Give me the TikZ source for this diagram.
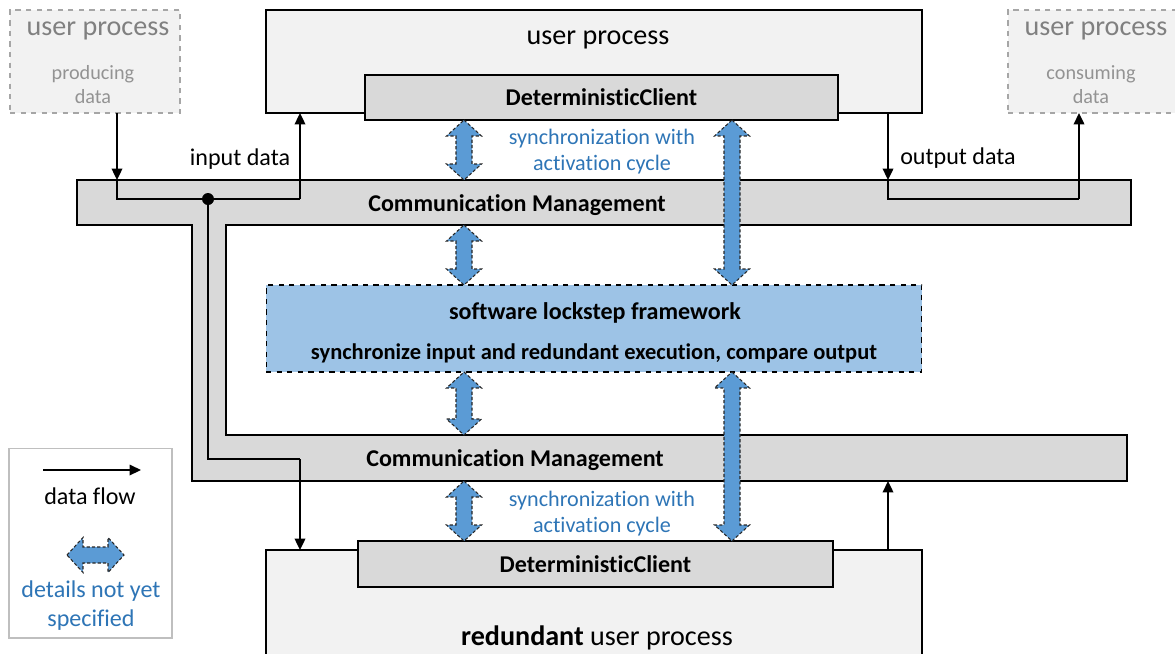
\documentclass[tikz,border=0pt]{standalone}
\usepackage{fontspec}
\setmainfont{Carlito}[Ligatures={NoCommon,NoRare}]
\usetikzlibrary{calc,arrows.meta}

\definecolor{boxfill}{HTML}{F2F2F2}
\definecolor{cmfill}{HTML}{D9D9D9}
\definecolor{lockfill}{HTML}{9DC3E6}
\definecolor{syncfill}{HTML}{5B9BD5}
\definecolor{synctext}{HTML}{2E75B6}
\definecolor{ghost}{HTML}{A6A6A6}
\definecolor{ghosttext}{HTML}{808080}

\tikzset{
  box/.style={draw, line width=0.8pt, fill=boxfill, inner sep=0pt, outer sep=0pt},
  ghostbox/.style={draw=ghost, dashed, line width=0.8pt, fill=boxfill, inner sep=0pt, outer sep=0pt},
  client/.style={draw, line width=0.8pt, fill=cmfill, inner sep=0pt, outer sep=0pt,
    font=\bfseries\fontsize{13.7}{16}\selectfont},
  lbl/.style={yshift=-0.05cm},
  txt/.style={lbl, font=\fontsize{13.7}{16}\selectfont},
  bigtxt/.style={lbl, font=\fontsize{16}{19}\selectfont},
  boldtxt/.style={lbl, font=\bfseries\fontsize{13.7}{16}\selectfont},
  ghosttitle/.style={lbl, text=ghosttext, font=\fontsize{16}{19}\selectfont},
  ghostsub/.style={lbl, text=ghosttext!85, align=center, font=\fontsize{11.5}{13.6}\selectfont},
  bluetxt/.style={lbl, text=synctext, align=center, font=\fontsize{12.6}{14.7}\selectfont},
  flow/.style={line width=1.1pt, -{Triangle[length=6.5pt,width=6pt]}},
  flowline/.style={line width=1.1pt},
  syncarrow/.style={draw=black!85, line width=0.6pt, dash pattern=on 1.8pt off 1.2pt, fill=syncfill,
    to path={
      -- ($(\tikztostart)!0.32cm!(\tikztotarget)!0.35cm!90:(\tikztotarget)$)
      -- ($(\tikztostart)!0.32cm!(\tikztotarget)!0.16cm!90:(\tikztotarget)$)
      -- ($(\tikztotarget)!0.32cm!(\tikztostart)!0.16cm!-90:(\tikztostart)$)
      -- ($(\tikztotarget)!0.32cm!(\tikztostart)!0.35cm!-90:(\tikztostart)$)
      -- (\tikztotarget)
      -- ($(\tikztotarget)!0.32cm!(\tikztostart)!0.35cm!90:(\tikztostart)$)
      -- ($(\tikztotarget)!0.32cm!(\tikztostart)!0.16cm!90:(\tikztostart)$)
      -- ($(\tikztostart)!0.32cm!(\tikztotarget)!0.16cm!-90:(\tikztotarget)$)
      -- ($(\tikztostart)!0.32cm!(\tikztotarget)!0.35cm!-90:(\tikztotarget)$)
      -- cycle}}
}

\begin{document}
\begin{tikzpicture}[x=0.02cm, y=-0.02cm]
    \useasboundingbox (0,0) rectangle (1175,653);
    %% Draw the process boxes
    \node[ghostbox, minimum width=3.4cm, minimum height=2.06cm] (prodBox) at (95,61.5) {};
    \node[ghostbox, minimum width=3.4cm, minimum height=2.06cm] (consBox) at (1093,61.5) {};
    \node[box, minimum width=13.12cm, minimum height=2.06cm] (upTop) at (594,61.5) {};
    \node[client, minimum width=9.46cm, minimum height=0.9cm] (dcTop) at (601.5,97.5) {DeterministicClient};
    \node[box, minimum width=13.12cm, minimum height=3cm] (upBot) at (594,625) {};
    \node[client, minimum width=9.5cm, minimum height=0.92cm] (dcBot) at (595.5,564) {DeterministicClient};
    \node[draw, dashed, line width=0.6pt, fill=lockfill, inner sep=0pt, outer sep=0pt,
      minimum width=13.12cm, minimum height=1.74cm] (lockstep) at (594,328.5) {};
    %% Draw the communication management band
    \node[inner sep=0pt, outer sep=0pt, minimum width=21.08cm, minimum height=0.9cm] (cmTop) at (604,202.5) {};
    \node[inner sep=0pt, outer sep=0pt, minimum width=18.7cm, minimum height=0.92cm] (cmBot) at (659.5,458) {};
    \coordinate (bandIn) at (226,0);
    \draw[line width=0.8pt, fill=cmfill] (cmTop.north west) -- (cmTop.north east) -- (cmTop.south east)
      -- (cmTop.south -| bandIn) -- (cmBot.north -| bandIn) -- (cmBot.north east) -- (cmBot.south east)
      -- (cmBot.south west) -- (cmTop.south -| cmBot.west) -- (cmTop.south west) -- cycle;
    %% Draw the legend
    \node[draw=black!25, line width=0.6pt, fill=white, inner sep=0pt, outer sep=0pt,
      minimum width=3.26cm, minimum height=3.8cm] (legend) at (90.5,543) {};
    %% Draw the labels
    \node[ghosttitle] (prodTitle) at (98,28) {user process};
    \node[ghostsub] (prodSub) at (93,82) {producing\\data};
    \node[ghosttitle] (consTitle) at (1096,28) {user process};
    \node[ghostsub] (consSub) at (1091,82) {consuming\\data};
    \node[bigtxt] (upTopLbl) at (598,37) {user process};
    \node[bigtxt] (upBotLbl) at (597,635) {\textbf{redundant} user process};
    \node[boldtxt] (cmTopLbl) at (517,203) {Communication Management};
    \node[boldtxt] (cmBotLbl) at (515,458) {Communication Management};
    \node[boldtxt] (lockTitle) at (595,310) {software lockstep framework};
    \node[lbl, font=\bfseries\fontsize{12.8}{15}\selectfont] (lockSub) at (594,351) {synchronize input and redundant execution, compare output};
    \node[bluetxt] (syncTop) at (602,149) {synchronization with\\activation cycle};
    \node[bluetxt] (syncBot) at (602,511) {synchronization with\\activation cycle};
    \node[txt] (inLbl) at (240,157) {input data};
    \node[txt] (outLbl) at (958,156) {output data};
    \node[txt] (legFlow) at (90,494) {data flow};
    \node[bluetxt, font=\fontsize{13.7}{16.4}\selectfont] (legSync) at (91,603) {details not yet\\specified};
    %% Draw the data flow
    \coordinate (inL) at (117,199);
    \coordinate (inR) at (300,199);
    \coordinate (dot) at (208,199);
    \coordinate (inDownR) at (300,459);
    \coordinate (outL) at (888,199);
    \coordinate (outR) at (1079,199);
    \coordinate (legL) at (43,470);
    \coordinate (legR) at (141,470);
    \draw[flow] (inL |- prodBox.south) -- (inL |- cmTop.north);
    \draw[flowline] (inL |- cmTop.north) -- (inL) -- (inR);
    \draw[flow] (inR) -- (inR |- upTop.south);
    \draw[flowline] (dot) |- (inDownR);
    \draw[flow] (inDownR) -- (inDownR |- upBot.north);
    \fill (dot) circle[radius=0.12cm];
    \draw[flow] (outL |- upTop.south) -- (outL |- cmTop.north);
    \draw[flowline] (outL |- cmTop.north) -- (outL) -- (outR);
    \draw[flow] (outR) -- (outR |- consBox.south);
    \draw[flow] (outL |- upBot.north) -- (outL |- cmBot.south);
    \draw[flow, line width=0.9pt] (legL) -- (legR);
    %% Draw the synchronization arrows
    \coordinate (xs) at (464,0);
    \coordinate (xl) at (732,0);
    \coordinate (legA) at (67,555);
    \coordinate (legB) at (124,555);
    \begin{scope}[every path/.style={syncarrow}]
      \draw (dcTop.south -| xs) to (cmTop.north -| xs);
      \draw (cmTop.south -| xs) to (lockstep.north -| xs);
      \draw (lockstep.south -| xs) to (cmBot.north -| xs);
      \draw (cmBot.south -| xs) to (dcBot.north -| xs);
      \draw (dcTop.south -| xl) to (lockstep.north -| xl);
      \draw (lockstep.south -| xl) to (dcBot.north -| xl);
      \draw (legA) to (legB);
    \end{scope}
\end{tikzpicture}
\end{document}
